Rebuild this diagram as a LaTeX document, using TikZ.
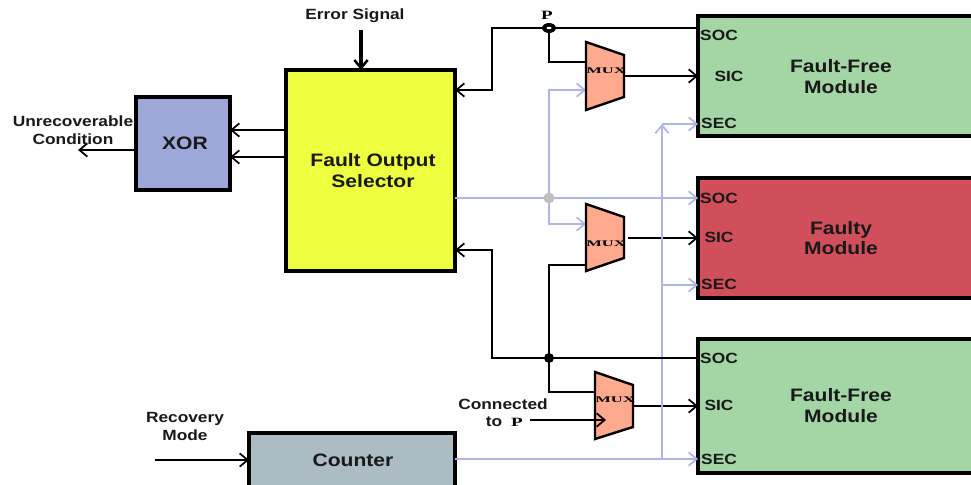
\documentclass[tikz,border=0pt]{standalone}
\usepackage{fontspec}
\setmainfont[FakeStretch=1.17]{Liberation Sans}
\newfontfamily\serifp[FakeStretch=1.5]{Liberation Serif}
\newfontfamily\serifm[FakeStretch=1.9]{Liberation Serif}
\usetikzlibrary{arrows.meta}
\definecolor{ffgreen}{HTML}{A3D5A5}
\definecolor{fred}{HTML}{D04F5A}
\definecolor{fyellow}{HTML}{EDFF3F}
\definecolor{xorblue}{HTML}{9DA8D8}
\definecolor{cntgrey}{HTML}{ABBCC2}
\definecolor{muxor}{HTML}{FFA98F}
\definecolor{wireblue}{HTML}{B0B6E3}
\tikzset{
  x=0.75pt,y=-0.75pt,
  block/.style={draw=black,line width=2.4pt,inner sep=0pt,outer sep=0pt,anchor=north west},
  lbl/.style={font=\fontsize{13.5}{15.5}\selectfont\bfseries,align=center,inner sep=0pt,text=black!90},
  small/.style={font=\fontsize{11.1}{13.5}\selectfont\bfseries,align=center,inner sep=0pt,text=black!90},
  port/.style={font=\fontsize{11.1}{12}\selectfont\bfseries,inner sep=0pt,text=black!90},
  bwire/.style={draw=black,line width=2pt},
  twire/.style={draw=black,line width=1.4pt},
  lwire/.style={draw=wireblue,line width=2pt},
  tip/.style={-{Straight Barb[length=6pt,width=10pt,line width=1.3pt]}},
  muxshape/.style={draw=black,line width=1.8pt,fill=muxor,line join=miter},
  muxlbl/.style={font=\serifm\fontsize{6.5}{7}\selectfont\bfseries,inner sep=0pt},
  plbl/.style={font=\serifp\fontsize{9.5}{10}\selectfont\bfseries,inner sep=0pt},
}
\begin{document}
\begin{tikzpicture}
\useasboundingbox (0,0) rectangle (971,485);
\clip (0,0) rectangle (971,485);
\fill[white] (0,0) rectangle (971,485);
% blocks
\node[block,fill=xorblue,minimum width=70.5pt,minimum height=69.75pt] (xor) at (136,97) {};
\node[block,fill=fyellow,minimum width=126.75pt,minimum height=150.75pt] (fos) at (286,70) {};
\node[block,fill=cntgrey,minimum width=154.5pt,minimum height=45pt] (cnt) at (249,433) {};
\node[block,fill=ffgreen,minimum width=210pt,minimum height=90pt] (ff1) at (698,16) {};
\node[block,fill=fred,minimum width=210pt,minimum height=90pt] (fm) at (698,178) {};
\node[block,fill=ffgreen,minimum width=210pt,minimum height=100.5pt] (ff3) at (698,339) {};
% junction and helper coordinates
\coordinate (p) at (549,28);
\coordinate (g) at (549,198);
\coordinate (j) at (549,358);
\coordinate (tl) at (492,28);
\coordinate (bl) at (492,358);
\coordinate (b1) at (662,124);
% blue wires
\draw[lwire,tip] (fos.east |- g) -- (fm.west |- g);
\draw[lwire,tip] (g) |- (586,90);
\draw[lwire,tip] (g) |- (586,224);
\draw[lwire,tip] (cnt.east |- 0,459) -- (ff3.west |- 0,459);
\draw[lwire,tip] (662,459) -- (b1);
\draw[lwire,tip] (b1) -- (ff1.west |- b1);
\draw[lwire,tip] (662,285) -- (fm.west |- 0,285);
% black wires
\draw[bwire] (ff1.west |- p) -- (p);
\draw[bwire,tip] (p) -- (tl) |- (fos.east |- 0,90);
\draw[bwire] (p) |- (586,62);
\draw[bwire] (ff3.west |- j) -- (j);
\draw[bwire,tip] (j) -- (bl) |- (fos.east |- 0,250);
\draw[bwire] (j) |- (586,265);
\draw[bwire] (j) |- (595,392);
% muxes
\draw[muxshape] (586,42) -- (624,55) -- (624,97) -- (586,110) -- cycle;
\draw[muxshape] (586,204) -- (624,217) -- (624,258) -- (586,271) -- cycle;
\draw[muxshape] (595,372) -- (633,385) -- (633,427) -- (595,439) -- cycle;
\node[muxlbl] (m1) at (606,70.5) {MUX};
\node[muxlbl] (m2) at (606,243.5) {MUX};
\node[muxlbl] (m3) at (615,399.5) {MUX};
\coordinate (m1o) at (624,76);
\coordinate (m2o) at (628,238);
\coordinate (m3o) at (633,406);
\draw[twire,tip] (m1o) -- (ff1.west |- m1o);
\draw[twire,tip] (m2o) -- (fm.west |- m2o);
\draw[twire,tip] (m3o) -- (ff3.west |- m3o);
% lighter vertical over black outputs
\draw[lwire] (662,230) -- (662,245);
\draw[lwire] (662,398) -- (662,414);
% dots
\fill[black] (p) ellipse (7 and 5);
\fill[white] (p) ellipse (2.5 and 1.2);
\fill[black!25] (g) circle (5.5);
\fill[black] (j) circle (5);
% other arrows
\coordinate (es) at (361,30);
\coordinate (rm) at (155,460);
\coordinate (un) at (78,150);
\coordinate (ctp) at (530,420);
\draw[line width=2.6pt,-{Straight Barb[length=6pt,width=10pt,line width=1.9pt]}] (es) -- (es |- fos.north);
\draw[twire,tip] (rm) -- (cnt.west |- rm);
\draw[twire,tip] (ctp) -- (606,420);
\draw[twire,tip] (fos.west |- 0,130) -- (xor.east |- 0,130);
\draw[twire,tip] (fos.west |- 0,157) -- (xor.east |- 0,157);
\draw[twire,tip] (xor.west |- un) -- (un);
% texts
\node[small] (t1) at (355,16) {Error Signal};
\node[small] (t2) at (73,130.5) {Unrecoverable\\Condition};
\node[lbl] (t3) at (185,143.5) {XOR};
\node[lbl] (t4) at (373,170.5) {Fault Output\\Selector};
\node[lbl] (t5) at (841,76.5) {Fault-Free\\Module};
\node[lbl] (t6) at (841,238) {Faulty\\Module};
\node[lbl] (t7) at (841,405.5) {Fault-Free\\Module};
\node[lbl] (t8) at (353,460) {Counter};
\node[small] (t9) at (185,426.5) {Recovery\\Mode};
\node[small,anchor=center] (t10) at (503,404) {Connected};
\node[small] (t11) at (494,422) {to};
\node[plbl] (t12) at (517,422) {P};
\node[plbl] (t13) at (547,15) {P};
\node[port] (s1) at (719,35) {SOC};
\node[port] (s2) at (729,76) {SIC};
\node[port] (s3) at (719,123) {SEC};
\node[port] (s4) at (719,198) {SOC};
\node[port] (s5) at (719,237) {SIC};
\node[port] (s6) at (719,284) {SEC};
\node[port] (s7) at (719,358) {SOC};
\node[port] (s8) at (719,405) {SIC};
\node[port] (s9) at (719,459) {SEC};
\end{tikzpicture}
\end{document}
